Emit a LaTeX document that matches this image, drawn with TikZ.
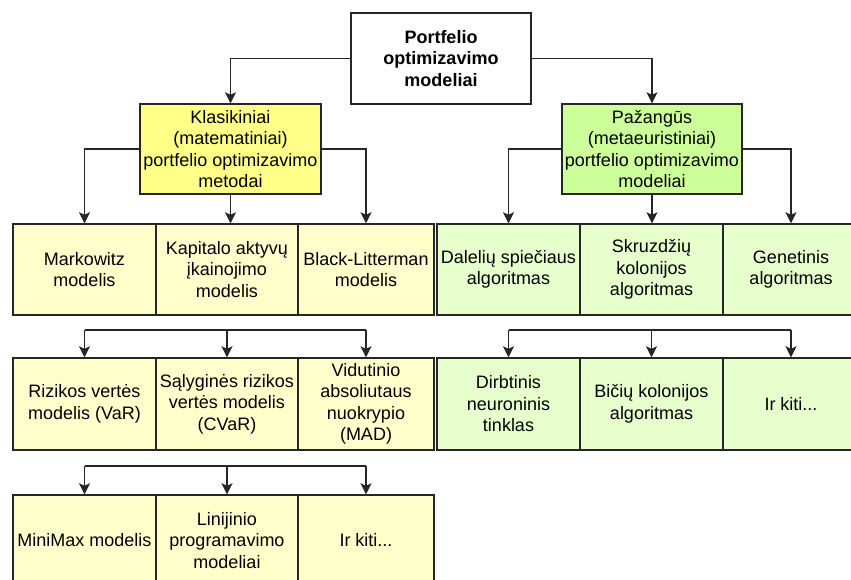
\documentclass[tikz,border=0pt]{standalone}
\usepackage{fontspec}
\setmainfont{Liberation Sans}
\usetikzlibrary{arrows.meta,calc}
\definecolor{lineC}{HTML}{262626}
\definecolor{yellowMain}{HTML}{FFFF88}
\definecolor{greenMain}{HTML}{CCFF99}
\definecolor{yellowLight}{HTML}{FFFFCC}
\definecolor{greenLight}{HTML}{E6FFCC}
\tikzset{
  x=1pt,y=-1pt,
  box/.style={draw=lineC,line width=1.4pt,align=center,inner sep=1pt,
    font=\fontsize{18}{21.5}\selectfont,text=black},
  rootbox/.style={box,fill=white,minimum width=180pt,minimum height=91pt,font=\fontsize{18}{21.5}\selectfont\bfseries},
  ybig/.style={box,fill=yellowMain,minimum width=181pt,minimum height=90pt},
  gbig/.style={box,fill=greenMain,minimum width=180pt,minimum height=90pt},
  ybox/.style={box,fill=yellowLight,minimum height=91pt},
  gbox/.style={box,fill=greenLight,minimum height=91pt},
  conn/.style={draw=lineC,line width=1.6pt},
  arr/.style={conn,-{Stealth[length=11pt,width=11pt,inset=2.5pt]}}
}
\begin{document}
\begin{tikzpicture}
\useasboundingbox (0,0) rectangle (851,580);
\clip (0,0) rectangle (851,580);
% top
\node[rootbox] (root) at (441,58.5) {Portfelio\\optimizavimo\\modeliai};
\node[ybig] (klas) at (230.5,149) {Klasikiniai\\(matematiniai)\\portfelio optimizavimo\\metodai};
\node[gbig] (paz) at (652,149) {Pažangūs\\(metaeuristiniai)\\portfelio optimizavimo\\modeliai};
% row 1 left
\node[ybox,minimum width=143pt] (a1) at (84.5,269.5) {Markowitz\\modelis};
\node[ybox,minimum width=142pt] (a2) at (227,269.5) {Kapitalo aktyvų\\įkainojimo\\modelis};
\node[ybox,minimum width=136pt] (a3) at (366,269.5) {Black-Litterman\\modelis};
% row 1 right
\node[gbox,minimum width=143pt] (b1) at (508.5,269.5) {Dalelių spiečiaus\\algoritmas};
\node[gbox,minimum width=143pt] (b2) at (651.5,269.5) {Skruzdžių\\kolonijos\\algoritmas};
\node[gbox,minimum width=136pt] (b3) at (791,269.5) {Genetinis\\algoritmas};
% row 2 left
\node[ybox,minimum width=143pt,minimum height=92pt] (c1) at (84.5,404) {Rizikos vertės\\modelis (VaR)};
\node[ybox,minimum width=142pt,minimum height=92pt] (c2) at (227,404) {Sąlyginės rizikos\\vertės modelis\\(CVaR)};
\node[ybox,minimum width=136pt,minimum height=92pt] (c3) at (366,404) {Vidutinio\\absoliutaus\\nuokrypio\\(MAD)};
% row 2 right
\node[gbox,minimum width=143pt,minimum height=92pt] (d1) at (508.5,404) {Dirbtinis\\neuroninis\\tinklas};
\node[gbox,minimum width=143pt,minimum height=92pt] (d2) at (651.5,404) {Bičių kolonijos\\algoritmas};
\node[gbox,minimum width=136pt,minimum height=92pt] (d3) at (791,404) {Ir kiti...};
% row 3 left
\node[ybox,minimum width=143pt] (e1) at (84.5,540.5) {MiniMax modelis};
\node[ybox,minimum width=142pt] (e2) at (227,540.5) {Linijinio\\programavimo\\modeliai};
\node[ybox,minimum width=136pt] (e3) at (366,540.5) {Ir kiti...};
% fork coordinates
\coordinate (fl2) at (0,330);
\coordinate (fr2) at (0,330);
\coordinate (fl3) at (0,466);
% connectors from root
\draw[arr] (root.west) -| (klas.north);
\draw[arr] (root.east) -| (paz.north);
% from klasikiniai
\draw[arr] (klas.west) -| (a1.north);
\draw[arr] (klas.south) -- (klas.south |- a2.north);
\draw[arr] (klas.east) -| (a3.north);
% from pazangus
\draw[arr] (paz.west) -| (b1.north);
\draw[arr] (paz.south) -- (paz.south |- b2.north);
\draw[arr] (paz.east) -| (b3.north);
% fork row 2 left
\draw[conn] (c1.north |- fl2) -- (c3.north |- fl2);
\draw[arr] (c1.north |- fl2) -- (c1.north);
\draw[arr] (c2.north |- fl2) -- (c2.north);
\draw[arr] (c3.north |- fl2) -- (c3.north);
% fork row 2 right
\draw[conn] (d1.north |- fr2) -- (d3.north |- fr2);
\draw[arr] (d1.north |- fr2) -- (d1.north);
\draw[arr] (d2.north |- fr2) -- (d2.north);
\draw[arr] (d3.north |- fr2) -- (d3.north);
% fork row 3 left
\draw[conn] (e1.north |- fl3) -- (e3.north |- fl3);
\draw[arr] (e1.north |- fl3) -- (e1.north);
\draw[arr] (e2.north |- fl3) -- (e2.north);
\draw[arr] (e3.north |- fl3) -- (e3.north);
\end{tikzpicture}
\end{document}
